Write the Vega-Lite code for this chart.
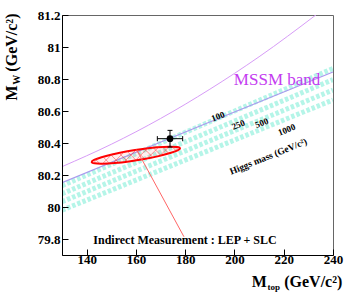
{
  "$schema": "https://vega.github.io/schema/vega-lite/v6.json",
  "width": 271,
  "height": 240,
  "autosize": {"type": "none"},
  "padding": {"left": 62, "top": 15, "right": 13, "bottom": 41},
  "background": "white",
  "config": {"view": {"stroke": "#666666", "strokeWidth": 1}, "font": "Liberation Serif"},
  "encoding": {
    "x": {"field": "x", "type": "quantitative", "scale": {"domain": [130, 240], "nice": false, "zero": false},
      "axis": {"values": [140, 160, 180, 200, 220, 240], "zindex": 2,
        "title": null, "grid": false, "domainColor": "black", "domainWidth": 1, "tickColor": "black",
        "tickSize": -6, "format": "d",
        "labelOverlap": false, "labelFlush": false,
        "labelFont": "Liberation Serif", "labelFontWeight": "bold", "labelFontSize": 13, "labelColor": "black", "labelPadding": 4}},
    "y": {"field": "y", "type": "quantitative", "scale": {"domain": [79.7, 81.2], "nice": false, "zero": false},
      "axis": {"values": [79.8, 80, 80.2, 80.4, 80.6, 80.8, 81, 81.2], "zindex": 2,
        "title": null, "grid": false, "domainColor": "black", "domainWidth": 1, "tickColor": "black",
        "tickSize": -6,
        "labelExpr": "format(datum.value, '.4~g')",
        "labelOverlap": false, "labelFlush": false,
        "labelFont": "Liberation Serif", "labelFontWeight": "bold", "labelFontSize": 13, "labelColor": "black", "labelPadding": 8}}
  },
  "layer": [
    {
      "data": {"values": [
        {"b": 1, "x": 130, "y": 80.133}, {"b": 1, "x": 240, "y": 80.866},
        {"b": 2, "x": 130, "y": 80.083}, {"b": 2, "x": 240, "y": 80.796},
        {"b": 3, "x": 130, "y": 80.033}, {"b": 3, "x": 240, "y": 80.731},
        {"b": 4, "x": 130, "y": 79.98}, {"b": 4, "x": 240, "y": 80.669}
      ]},
      "mark": {"type": "line", "stroke": "#b5f5e8", "strokeWidth": 5, "strokeDash": [3.5, 2], "clip": true},
      "encoding": {
        "detail": {"field": "b", "type": "nominal"}
      }
    },
    {
      "data": {"values": [
        {"x": 135}, {"x": 145}, {"x": 150}, {"x": 155}, {"x": 165}, {"x": 170}, {"x": 175},
        {"x": 185}, {"x": 190}, {"x": 195}, {"x": 205}, {"x": 210}, {"x": 215},
        {"x": 225}, {"x": 230}, {"x": 235}
      ]},
      "mark": {"type": "rule", "stroke": "black", "strokeWidth": 1},
      "encoding": {
        "y": {"datum": 79.7, "type": "quantitative"},
        "y2": {"datum": 79.72}
      }
    },
    {
      "data": {"values": [
        {"y": 79.75}, {"y": 79.85}, {"y": 79.9}, {"y": 79.95}, {"y": 80.05}, {"y": 80.1}, {"y": 80.15},
        {"y": 80.25}, {"y": 80.3}, {"y": 80.35}, {"y": 80.45}, {"y": 80.5}, {"y": 80.55},
        {"y": 80.65}, {"y": 80.7}, {"y": 80.75}, {"y": 80.85}, {"y": 80.9}, {"y": 80.95},
        {"y": 81.05}, {"y": 81.1}, {"y": 81.15}
      ]},
      "mark": {"type": "rule", "stroke": "black", "strokeWidth": 1},
      "encoding": {
        "x": {"datum": 130, "type": "quantitative"},
        "x2": {"datum": 131.2}
      }
    },
    {
      "data": {"values": [
        {"x": 130, "y": 80.252}, {"x": 150, "y": 80.392}, {"x": 170, "y": 80.553},
        {"x": 190, "y": 80.736}, {"x": 210, "y": 80.939}, {"x": 233.2, "y": 81.202}, {"x": 236, "y": 81.235}
      ]},
      "mark": {"type": "line", "stroke": "#d79cf7", "strokeWidth": 1, "interpolate": "monotone", "clip": true}
    },
    {
      "data": {"values": [
        {"x": 130, "y": 80.152}, {"x": 185, "y": 80.5}, {"x": 240, "y": 80.844}
      ]},
      "mark": {"type": "line", "stroke": "#aa99ee", "strokeWidth": 1.2, "interpolate": "monotone", "clip": true}
    },
    {
      "data": {"values": [
        {"i": 0, "x": 177.91, "y": 80.367}, {"i": 1, "x": 176.93, "y": 80.354}, {"i": 2, "x": 173.92, "y": 80.337},
        {"i": 3, "x": 169.22, "y": 80.318}, {"i": 4, "x": 163.41, "y": 80.300}, {"i": 5, "x": 157.18, "y": 80.285},
        {"i": 6, "x": 151.29, "y": 80.275}, {"i": 7, "x": 146.45, "y": 80.271}, {"i": 8, "x": 143.24, "y": 80.273},
        {"i": 9, "x": 142.05, "y": 80.281}, {"i": 10, "x": 143.02, "y": 80.294}, {"i": 11, "x": 146.04, "y": 80.311},
        {"i": 12, "x": 150.74, "y": 80.330}, {"i": 13, "x": 156.55, "y": 80.348}, {"i": 14, "x": 162.77, "y": 80.363},
        {"i": 15, "x": 168.67, "y": 80.373}, {"i": 16, "x": 173.50, "y": 80.377}, {"i": 17, "x": 176.72, "y": 80.375}
      ]},
      "mark": {"type": "line", "stroke": "#ff0000", "strokeWidth": 2, "fill": "#ff0000", "fillOpacity": 0.06, "interpolate": "cardinal-closed"},
      "encoding": {
        "order": {"field": "i", "type": "quantitative"}
      }
    },
    {
      "data": {"values": [
        {"x": 164.74, "y": 80.367, "x2": 159.87, "y2": 80.292},
        {"x": 169.23, "y": 80.374, "x2": 164.72, "y2": 80.305},
        {"x": 173.48, "y": 80.378, "x2": 169.78, "y2": 80.321},
        {"x": 177.26, "y": 80.374, "x2": 175.34, "y2": 80.344},
        {"x": 160.08, "y": 80.357, "x2": 155.21, "y2": 80.282},
        {"x": 155.24, "y": 80.344, "x2": 150.73, "y2": 80.275},
        {"x": 150.17, "y": 80.328, "x2": 146.47, "y2": 80.271},
        {"x": 144.62, "y": 80.304, "x2": 142.70, "y2": 80.275},
        {"x": 163.50, "y": 80.301, "x2": 159.90, "y2": 80.356},
        {"x": 166.87, "y": 80.311, "x2": 163.42, "y2": 80.364},
        {"x": 170.17, "y": 80.322, "x2": 167.01, "y2": 80.371},
        {"x": 173.36, "y": 80.335, "x2": 170.70, "y2": 80.376},
        {"x": 176.37, "y": 80.350, "x2": 174.59, "y2": 80.378},
        {"x": 160.05, "y": 80.292, "x2": 156.46, "y2": 80.348},
        {"x": 156.54, "y": 80.285, "x2": 153.08, "y2": 80.338},
        {"x": 152.94, "y": 80.278, "x2": 149.78, "y2": 80.327},
        {"x": 149.25, "y": 80.273, "x2": 146.59, "y2": 80.314},
        {"x": 145.36, "y": 80.271, "x2": 143.59, "y2": 80.298}
      ]},
      "mark": {"type": "rule", "stroke": "#ff3030", "strokeWidth": 0.7, "opacity": 0.7},
      "encoding": {
        "x2": {"field": "x2"},
        "y2": {"field": "y2"}
      }
    },
    {
      "data": {"values": [{"x": 160.3, "y": 80.358, "x2": 179.5, "y2": 79.814}]},
      "mark": {"type": "rule", "stroke": "#ff6666", "strokeWidth": 1},
      "encoding": {
        "x2": {"field": "x2"},
        "y2": {"field": "y2"}
      }
    },
    {
      "data": {"values": [
        {"x": 168.7, "y": 80.427, "x2": 178.98, "y2": 80.427},
        {"x": 173.84, "y": 80.375, "x2": 173.84, "y2": 80.479},
        {"x": 168.7, "y": 80.411, "x2": 168.7, "y2": 80.443},
        {"x": 178.98, "y": 80.411, "x2": 178.98, "y2": 80.443},
        {"x": 172.84, "y": 80.375, "x2": 174.84, "y2": 80.375},
        {"x": 172.84, "y": 80.479, "x2": 174.84, "y2": 80.479}
      ]},
      "mark": {"type": "rule", "stroke": "black", "strokeWidth": 1},
      "encoding": {
        "x2": {"field": "x2"},
        "y2": {"field": "y2"}
      }
    },
    {
      "data": {"values": [{"x": 173.84, "y": 80.427}]},
      "mark": {"type": "circle", "color": "black", "size": 45, "opacity": 1}
    },
    {
      "data": {"values": [{"x": 217.3, "y": 80.7925, "t": "MSSM band"}]},
      "mark": {"type": "text", "font": "Liberation Serif", "fontSize": 17, "color": "#c43cf0", "align": "center", "baseline": "middle"},
      "encoding": {"text": {"field": "t"}}
    },
    {
      "data": {"values": [{"x": 179.93, "y": 79.796, "t": "Indirect Measurement : LEP + SLC"}]},
      "mark": {"type": "text", "font": "Liberation Serif", "fontSize": 12, "fontWeight": "bold", "color": "black", "align": "center", "baseline": "middle"},
      "encoding": {"text": {"field": "t"}}
    },
    {
      "data": {"values": [
        {"x": 193.3, "y": 80.566, "t": "100"},
        {"x": 201.56, "y": 80.514, "t": "250"},
        {"x": 211.06, "y": 80.525, "t": "500"},
        {"x": 221.2, "y": 80.483, "t": "1000"}
      ]},
      "mark": {"type": "text", "font": "Liberation Serif", "fontSize": 9, "fontWeight": "bold", "color": "black", "align": "center", "baseline": "middle", "angle": 338},
      "encoding": {"text": {"field": "t"}}
    },
    {
      "data": {"values": [{"x": 213.74, "y": 80.316, "t": "Higgs mass (GeV/c²)"}]},
      "mark": {"type": "text", "font": "Liberation Serif", "fontSize": 9.5, "fontWeight": "bold", "color": "black", "align": "center", "baseline": "middle", "angle": 338},
      "encoding": {"text": {"field": "t"}}
    },
    {
      "data": {"values": [{"x": 207.0, "y": 79.4975, "t": "M"}, {"x": 220.2, "y": 79.4975, "t": "(GeV/c²)"}]},
      "mark": {"type": "text", "font": "Liberation Serif", "fontSize": 16, "fontWeight": "bold", "color": "black", "align": "left", "baseline": "alphabetic"},
      "encoding": {"text": {"field": "t"}}
    },
    {
      "data": {"values": [{"x": 213.41, "y": 79.48, "t": "top"}]},
      "mark": {"type": "text", "font": "Liberation Serif", "fontSize": 9, "fontWeight": "bold", "color": "black", "align": "left", "baseline": "alphabetic"},
      "encoding": {"text": {"field": "t"}}
    },
    {
      "data": {"values": [{"x": 111.61, "y": 80.666, "t": "M"}, {"x": 111.61, "y": 80.846, "t": "(GeV/c²)"}]},
      "mark": {"type": "text", "font": "Liberation Serif", "fontSize": 16, "fontWeight": "bold", "color": "black", "align": "left", "baseline": "alphabetic", "angle": 270},
      "encoding": {"text": {"field": "t"}}
    },
    {
      "data": {"values": [{"x": 112.95, "y": 80.764, "t": "W"}]},
      "mark": {"type": "text", "font": "Liberation Serif", "fontSize": 10, "fontWeight": "bold", "color": "black", "align": "left", "baseline": "alphabetic", "angle": 270},
      "encoding": {"text": {"field": "t"}}
    }
  ]
}
